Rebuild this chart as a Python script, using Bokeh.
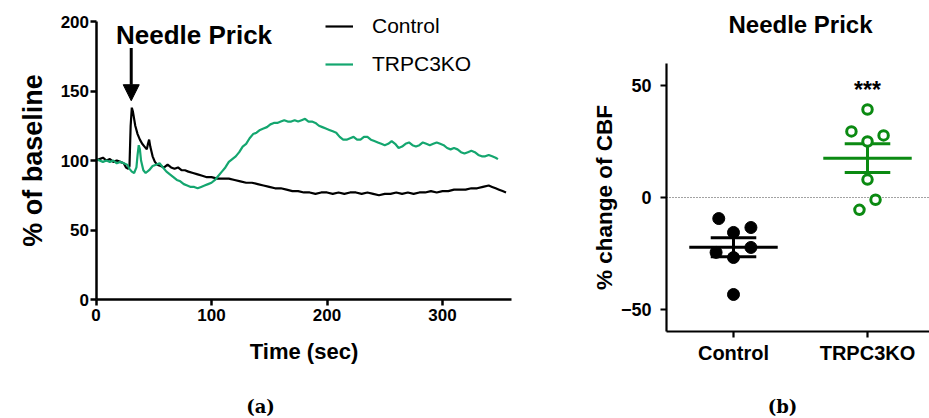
from bokeh.plotting import figure
from bokeh.layouts import row
from bokeh.models import (ColumnDataSource, Label, Arrow, NormalHead,
                          FixedTicker, Range1d)
from bokeh.embed import file_html
from bokeh.resources import INLINE

# ---------------- data: panel (a) ----------------
ctrl_t = [0, 3, 6, 9, 12, 15, 18, 21, 24, 26, 28, 29, 30, 31, 32, 34, 36, 38, 40, 42, 44, 45, 46, 47,
          49, 51, 53, 56, 59, 62, 65, 68, 71, 74, 77, 80, 84, 88, 92, 96, 100, 105, 110, 115, 120,
          125, 130, 135, 140, 145, 150, 155, 160, 165, 170, 175, 180, 185, 190, 195, 200, 205, 210,
          215, 220, 225, 230, 235, 240, 245, 250, 255, 260, 265, 270, 275, 280, 285, 290, 295, 300,
          305, 310, 315, 320, 325, 330, 335, 340, 343, 346, 349, 352, 355]
ctrl_v = [100, 101, 102, 100, 101, 99, 100, 99, 98, 95, 94, 96, 125, 138, 135, 125, 119, 115, 112, 110,
          108, 112, 115, 110, 103, 99, 97, 96, 95, 97, 95, 94, 95, 93, 93, 92, 91, 90, 89, 88, 88, 87,
          87, 87, 86, 85, 84, 84, 83, 82, 81, 80, 80, 79, 78, 78, 77, 77, 76, 77, 77, 76, 77, 76, 77,
          77, 76, 77, 76, 75, 76, 76, 77, 76, 77, 76, 77, 77, 78, 77, 78, 78, 79, 79, 79, 80, 80, 81,
          82, 81, 80, 79, 78, 77]

ko_t = [0, 3, 6, 9, 12, 15, 18, 21, 24, 27, 29, 31, 33, 35, 36, 37, 38, 39, 41, 43, 46, 49, 52, 55, 58,
        61, 64, 67, 70, 73, 76, 79, 82, 85, 88, 91, 94, 97, 100, 103, 106, 109, 112, 115, 118, 121,
        124, 127, 130, 133, 136, 139, 142, 145, 148, 151, 154, 157, 160, 163, 166, 169, 172, 175,
        178, 181, 184, 187, 190, 193, 196, 199, 202, 205, 208, 211, 214, 217, 220, 223, 226, 229,
        232, 235, 238, 241, 244, 247, 250, 253, 256, 259, 262, 265, 268, 271, 274, 277, 280, 283,
        286, 289, 292, 295, 298, 301, 304, 307, 310, 313, 316, 319, 322, 325, 328, 331, 334, 337,
        340, 343, 346, 348]
ko_v = [101, 100, 99, 100, 99, 100, 98, 99, 98, 97, 94, 92, 91, 95, 104, 111, 108, 100, 93, 91, 93, 96,
        97, 98, 95, 92, 90, 88, 86, 85, 83, 82, 81, 81, 80, 81, 82, 83, 84, 86, 89, 92, 95, 99, 101,
        103, 106, 110, 112, 116, 119, 120, 122, 123, 124, 126, 127, 127, 128, 129, 128, 128, 129, 128,
        129, 130, 128, 128, 127, 125, 124, 123, 122, 121, 120, 117, 115, 115, 116, 117, 115, 115, 117,
        117, 115, 114, 113, 112, 111, 112, 114, 112, 109, 110, 112, 113, 111, 110, 111, 113, 112, 111,
        112, 113, 112, 111, 109, 108, 109, 108, 106, 105, 106, 107, 106, 104, 103, 103, 104, 103, 102,
        101]

x_ticks_a = [0, 100, 200, 300]
y_ticks_a = [0, 50, 100, 150, 200]

# ---------------- data: panel (b) ----------------
groups = ["Control", "TRPC3KO"]
ctrl_cbf = [-9.4, -13.4, -15.6, -24.5, -22.3, -26.8, -43.3]
ko_cbf = [39.3, 29.5, 27.7, 25.0, 8.0, -1.0, -5.5]
y_ticks_b = [-50, 0, 50]

# layout-only horizontal jitter (beeswarm spread), in category units
ctrl_jit = [-0.11, 0.13, 0.0, -0.13, 0.13, 0.0, 0.0]
ko_jit = [0.0, -0.12, 0.12, 0.0, 0.0, 0.06, -0.06]

FONT = "Liberation Sans"
GREEN_A = "#14a66f"
GREEN_B = "#0b8a12"

H = 418
W_A = 560
W_B = 369

# ---- layout geometry (pixels) ----
# panel (a): data origin pixel and scale
A_X0, A_XS = 95.5, 1.155     # px of t=0, px per second
A_Y0, A_YS = 299.0, 1.39     # px of 0 %, px per %
# panel (b)
B_X1, B_XS = 173.0, 134.0    # px (within panel) of first group, px per group
B_Y0, B_YS = 197.0, 2.24     # px of 0, px per %
CAPTION_Y = 406              # px of caption centre

# ================= Panel (a) =================
pa = figure(width=W_A, height=H, output_backend="svg", toolbar_location=None, title=None,
            x_range=Range1d(-A_X0 / A_XS, (W_A - A_X0) / A_XS),
            y_range=Range1d(-(H - A_Y0) / A_YS, A_Y0 / A_YS),
            min_border=0)
pa.grid.visible = False
pa.outline_line_color = None

pa.line(ctrl_t, ctrl_v, line_color="black", line_width=2.2, legend_label="Control")
pa.line(ko_t, ko_v, line_color=GREEN_A, line_width=2.2, legend_label="TRPC3KO")

for ax in (pa.xaxis[0], pa.yaxis[0]):
    ax.axis_line_width = 2.5
    ax.major_tick_line_width = 2.5
    ax.major_tick_out = 6
    ax.major_tick_in = 0
    ax.minor_tick_out = 0
    ax.minor_tick_in = 0
    ax.major_label_text_font = FONT
    ax.major_label_text_font_style = "bold"
    ax.major_label_text_font_size = "17px"
    ax.major_label_text_color = "black"
    ax.axis_label_text_font = FONT
    ax.axis_label_text_font_style = "bold"
    ax.axis_label_text_color = "black"
pa.xaxis.ticker = FixedTicker(ticks=x_ticks_a)
pa.yaxis.ticker = FixedTicker(ticks=y_ticks_a)
pa.xaxis.bounds = (0, 360)
pa.yaxis.bounds = (0, 200)
pa.xaxis.fixed_location = 0
pa.yaxis.fixed_location = 0
pa.xaxis.axis_label = "Time (sec)"
pa.xaxis.axis_label_text_font_size = "22px"
pa.xaxis.major_label_standoff = 3
pa.xaxis.axis_label_standoff = 15
pa.yaxis.axis_label = "% of baseline"
pa.yaxis.axis_label_text_font_size = "27px"
pa.yaxis.major_label_standoff = 1
pa.yaxis.axis_label_standoff = 10

lg = pa.legend[0]
lg.location = (325, 342)
lg.background_fill_alpha = 0
lg.border_line_alpha = 0
lg.padding = 0
lg.margin = 0
lg.spacing = 14
lg.glyph_width = 28
lg.glyph_height = 24
lg.label_height = 24
lg.label_standoff = 19
lg.label_text_font = FONT
lg.label_text_font_size = "21px"
lg.label_text_color = "black"

pa.add_layout(Label(x=17.3, y=190, text="Needle Prick", text_font=FONT, text_font_size="26px",
                    text_font_style="bold", text_baseline="middle", text_color="black"))
pa.add_layout(Arrow(end=NormalHead(size=16, fill_color="black", line_color="black"),
                    x_start=30.5, y_start=181, x_end=30.5, y_end=143,
                    line_width=3, line_color="black"))
pa.add_layout(Label(x=(260 - A_X0) / A_XS, y=(A_Y0 - CAPTION_Y) / A_YS, text="(a)",
                    text_font="DejaVu Serif", text_font_size="18px", text_font_style="bold",
                    text_align="center", text_baseline="middle", text_color="black"))

# ================= Panel (b) =================
XB0, XB1 = 0.5, 2.5
pb = figure(width=W_B, height=H, output_backend="svg", toolbar_location=None, title=None,
            x_range=Range1d(1 - B_X1 / B_XS, 1 + (W_B - B_X1) / B_XS),
            y_range=Range1d(-(H - B_Y0) / B_YS, B_Y0 / B_YS),
            min_border=0)
pb.grid.visible = False
pb.outline_line_color = None

# dotted zero reference line, from the y axis to the right edge
pb.segment(x0=[XB0], y0=[0], x1=[XB1], y1=[0], line_color="#444444", line_width=1.2,
           line_dash="1 2")

pos = {g: i + 1 for i, g in enumerate(groups)}


def stats(vals):
    n = len(vals)
    m = sum(vals) / n
    sd = (sum((v - m) ** 2 for v in vals) / (n - 1)) ** 0.5
    return m, sd / n ** 0.5


MEAN_HALF = 0.33
SEM_HALF = 0.17
for g, vals, col in ((groups[0], ctrl_cbf, "black"), (groups[1], ko_cbf, GREEN_B)):
    m, se = stats(vals)
    c = pos[g]
    pb.segment(x0=[c - MEAN_HALF], y0=[m], x1=[c + MEAN_HALF], y1=[m], line_color=col, line_width=3)
    pb.segment(x0=[c - SEM_HALF, c - SEM_HALF, c], y0=[m + se, m - se, m - se],
               x1=[c + SEM_HALF, c + SEM_HALF, c], y1=[m + se, m - se, m + se],
               line_color=col, line_width=3)

src_c = ColumnDataSource(dict(x=[pos[groups[0]] + j for j in ctrl_jit], y=ctrl_cbf))
src_k = ColumnDataSource(dict(x=[pos[groups[1]] + j for j in ko_jit], y=ko_cbf))
pb.scatter("x", "y", source=src_c, size=12, fill_color="black", line_color="black", line_width=1)
pb.scatter("x", "y", source=src_k, size=9.5, fill_color="white", line_color=GREEN_B, line_width=3)

for ax in (pb.xaxis[0], pb.yaxis[0]):
    ax.axis_line_width = 2.2
    ax.major_tick_line_width = 2.2
    ax.major_tick_out = 6
    ax.major_tick_in = 0
    ax.minor_tick_out = 0
    ax.minor_tick_in = 0
    ax.major_label_text_font = FONT
    ax.major_label_text_font_style = "bold"
    ax.major_label_text_color = "black"
    ax.axis_label_text_font = FONT
    ax.axis_label_text_font_style = "bold"
    ax.axis_label_text_color = "black"
pb.yaxis.ticker = FixedTicker(ticks=y_ticks_b)
pb.yaxis.bounds = (-60, 60)
pb.xaxis.bounds = (XB0, XB1)
pb.xaxis.fixed_location = -60
pb.yaxis.fixed_location = XB0
pb.yaxis.major_label_overrides = {-50: "\u221250"}
pb.yaxis.major_label_text_font_size = "18px"
pb.yaxis.major_label_standoff = 9
pb.yaxis.axis_label = "% change of CBF"
pb.yaxis.axis_label_text_font_size = "22.5px"
pb.yaxis.axis_label_standoff = 1
pb.xaxis.ticker = FixedTicker(ticks=[pos[g] for g in groups])
pb.xaxis.major_label_overrides = {pos[g]: g for g in groups}
pb.xaxis.major_label_text_font_size = "20px"
pb.xaxis.major_label_standoff = 4

pb.add_layout(Label(x=1.5, y=(B_Y0 - 24) / B_YS, text="Needle Prick", text_font=FONT,
                    text_font_size="24px", text_font_style="bold", text_align="center",
                    text_baseline="middle", text_color="black"))
pb.add_layout(Label(x=2, y=48, text="***", text_font=FONT, text_font_size="23px",
                    text_font_style="bold", text_align="center", text_baseline="alphabetic",
                    text_color="black"))
pb.add_layout(Label(x=1 + (782 - 560 - B_X1) / B_XS, y=(B_Y0 - CAPTION_Y) / B_YS, text="(b)",
                    text_font="DejaVu Serif", text_font_size="18px", text_font_style="bold",
                    text_align="center", text_baseline="middle", text_color="black"))

layout = row(pa, pb)
open("out.html", "w").write(file_html(layout, INLINE))
